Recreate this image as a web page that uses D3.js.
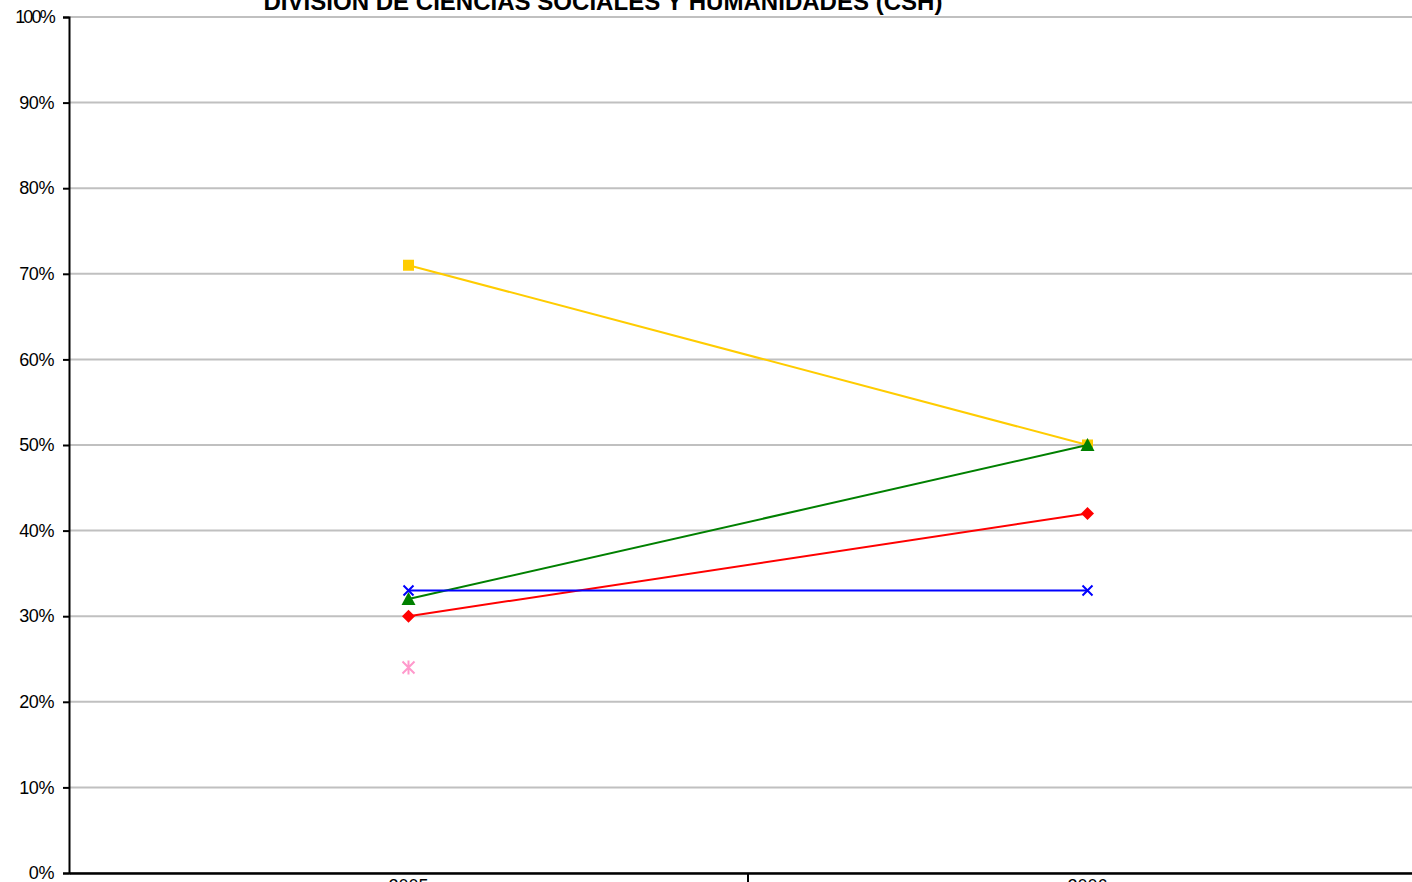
<!DOCTYPE html>
<html><head><meta charset="utf-8">
<script src="https://cdn.jsdelivr.net/npm/d3@7"></script>
<style>html,body{margin:0;padding:0;background:#fff;overflow:hidden}svg{display:block}</style>
</head><body>
<script>
const title = "DIVISIÓN DE CIENCIAS SOCIALES Y HUMANIDADES (CSH)";
const years = ["2005", "2006"];
const yTicks = [0, 0.1, 0.2, 0.3, 0.4, 0.5, 0.6, 0.7, 0.8, 0.9, 1.0];
const seriesNames = ["Serie 1", "Serie 2", "Serie 3", "Serie 4", "Serie 5"];
const serie1 = [0.30, 0.42];
const serie2 = [0.71, 0.50];
const serie3 = [0.32, 0.50];
const serie4 = [0.33, 0.33];
const serie5 = [0.24, null];

const colors = ["#FF0000", "#FFCC00", "#008000", "#0000FF", "#FF99CC"];
const markers = ["diamond", "square", "triangle", "x", "star"];
const seriesValues = [serie1, serie2, serie3, serie4, serie5];

const W = 1412, H = 882;
const FONT = "Arial, 'Liberation Sans', sans-serif";
const svg = d3.select("body").append("svg").attr("width", W).attr("height", H);

const x = d3.scaleBand().domain(years).range([69, 1427]).paddingInner(0).paddingOuter(0);
const y = d3.scaleLinear().domain([0, 1]).range([873, 17]);

// gridlines
svg.append("g").selectAll("line").data(yTicks).join("line")
  .attr("x1", 69).attr("x2", W).attr("y1", d => y(d)).attr("y2", d => y(d))
  .attr("stroke", "#c0c0c0").attr("stroke-width", 2);

// y axis
const yAxis = d3.axisLeft(y).tickValues(yTicks).tickFormat(d3.format(".0%")).tickSize(6).tickPadding(9);
const gy = svg.append("g").attr("transform", "translate(69,0)").call(yAxis);
gy.select(".domain").attr("stroke", "#000").attr("stroke-width", 2);
gy.selectAll(".tick line").attr("stroke", "#000").attr("stroke-width", 2);
gy.selectAll(".tick text").attr("font-family", FONT).attr("font-size", 18).attr("fill", "#000")
  .attr("letter-spacing", d => d === 1 ? "-1.8px" : "-0.4px");

// x axis
const xAxis = d3.axisBottom(x).tickSize(0).tickPadding(6);
const gx = svg.append("g").attr("transform", "translate(0,873)").call(xAxis);
gx.select(".domain").attr("stroke", "#000").attr("stroke-width", 2.5);
gx.selectAll(".tick text").attr("font-family", FONT).attr("font-size", 18).attr("fill", "#000");
// category separators
svg.append("g").selectAll("line").data(years.slice(1)).join("line")
  .attr("x1", d => x(d)).attr("x2", d => x(d)).attr("y1", 873).attr("y2", 885)
  .attr("stroke", "#000").attr("stroke-width", 2);

// title
svg.append("text").attr("x", 603).attr("y", 10).attr("text-anchor", "middle")
  .attr("font-family", FONT).attr("font-weight", "bold").attr("font-size", 23)
  .attr("textLength", 679).attr("lengthAdjust", "spacingAndGlyphs")
  .text(title);

const cx = d => x(d) + x.bandwidth() / 2;
const line = d3.line().defined(d => d.v !== null).x(d => cx(d.year)).y(d => y(d.v));

seriesValues.forEach((vals, i) => {
  const pts = years.map((yr, j) => ({ year: yr, v: vals[j] }));
  const g = svg.append("g").attr("class", "series").attr("data-name", seriesNames[i]);
  g.append("path").datum(pts).attr("d", line).attr("fill", "none")
    .attr("stroke", colors[i]).attr("stroke-width", 2);
  const m = markers[i];
  pts.filter(p => p.v !== null).forEach(p => {
    const px = cx(p.year), py = y(p.v);
    const c = colors[i];
    if (m === "diamond") {
      g.append("path").attr("d", `M${px},${py-6.5}L${px+6.5},${py}L${px},${py+6.5}L${px-6.5},${py}Z`).attr("fill", c);
    } else if (m === "square") {
      g.append("rect").attr("x", px-5.5).attr("y", py-5.5).attr("width", 11).attr("height", 11).attr("fill", c);
    } else if (m === "triangle") {
      g.append("path").attr("d", `M${px},${py-7}L${px+7},${py+6}L${px-7},${py+6}Z`).attr("fill", c);
    } else if (m === "x") {
      g.append("path").attr("d", `M${px-5},${py-5}L${px+5},${py+5}M${px-5},${py+5}L${px+5},${py-5}`)
        .attr("stroke", c).attr("stroke-width", 2);
    } else if (m === "star") {
      g.append("path").attr("d", `M${px-6},${py-6}L${px+6},${py+6}M${px-6},${py+6}L${px+6},${py-6}M${px},${py-7}L${px},${py+7}`)
        .attr("stroke", c).attr("stroke-width", 2);
    }
  });
});
</script>
</body></html>
